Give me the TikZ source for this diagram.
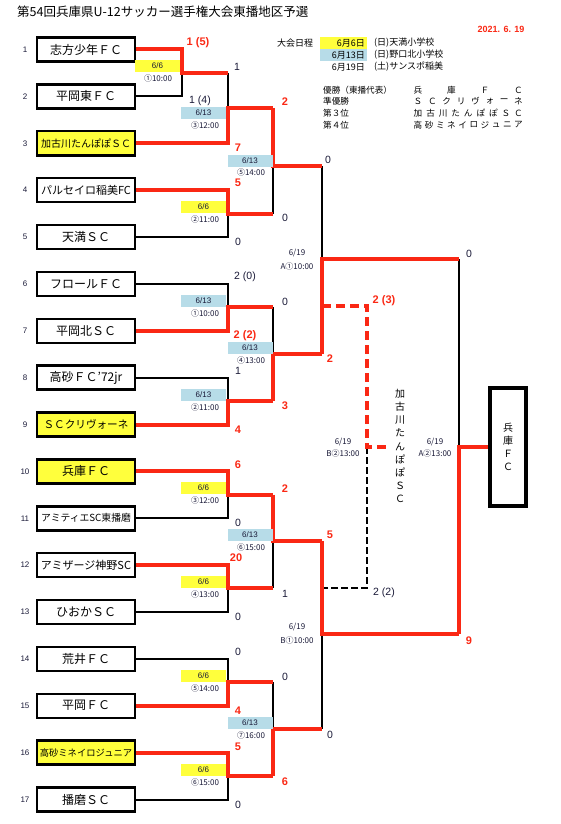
\documentclass[tikz,border=0pt]{standalone}
\usepackage{fontspec}
\setmainfont{Liberation Sans}
\newfontfamily\jp{Noto Sans CJK JP}
\definecolor{rd}{RGB}{250,40,20}
\definecolor{yl}{RGB}{255,255,60}
\definecolor{bl}{RGB}{183,220,232}
\definecolor{nv}{RGB}{25,25,55}
\begin{document}
\begin{tikzpicture}[x=1pt,y=-1pt,
  team/.style={draw, line width=2.5pt, minimum width=98pt, minimum height=24pt, inner sep=0pt, font=\jp\fontsize{12}{12}\selectfont},
  teamY/.style={team, fill=yl},
  num/.style={font=\fontsize{8}{8}\selectfont, text=nv, inner sep=0pt},
  bk/.style={line width=2pt, black},
  rl/.style={line width=4pt, rd},
  rdash/.style={line width=3.2pt, rd, dash pattern=on 9pt off 5pt},
  bdash/.style={line width=2pt, black, dash pattern=on 7pt off 3pt},
  lblY/.style={fill=yl, minimum width=45pt, minimum height=12pt, inner sep=0pt, font=\fontsize{8}{8}\selectfont, text=nv},
  lblB/.style={lblY, fill=bl},
  tm/.style={font=\jp\fontsize{8}{8}\selectfont, text=nv, inner sep=0pt},
  sc/.style={font=\fontsize{10.5}{10.5}\selectfont, text=nv, inner sep=0pt},
  scr/.style={font=\bfseries\fontsize{11}{11}\selectfont, text=rd, inner sep=0pt},
  hd/.style={font=\jp\fontsize{9}{9}\selectfont, inner sep=0pt},
]
\useasboundingbox (0,0) rectangle (561,824);

% title and header
\node[anchor=west, inner sep=0pt, font=\jp\fontsize{12.5}{12.5}\selectfont] (title) at (17,12) {第54回兵庫県U-12サッカー選手権大会東播地区予選};
\node[font=\bfseries\fontsize{9}{9}\selectfont, text=rd, inner sep=0pt] (date) at (501,29) {2021. 6. 19};
\node[hd] (sched) at (295,43) {大会日程};
\fill[yl] (320,37) rectangle (367,49);
\fill[bl] (320,49) rectangle (367,61);
\node[hd, anchor=east] (d1) at (365,43) {6月6日};
\node[hd, anchor=east] (d2) at (365,55) {6月13日};
\node[hd, anchor=east] (d3) at (365,67) {6月19日};
\node[hd, anchor=west] (v1) at (374,43) {(日)天満小学校};
\node[hd, anchor=west] (v2) at (374,55) {(日)野口北小学校};
\node[hd, anchor=west] (v3) at (374,67) {(土)サンスポ稲美};
\node[hd, anchor=west, font=\jp\fontsize{8.6}{8.6}\selectfont] (p1) at (323,90) {優勝（東播代表）};
\node[hd, anchor=west, font=\jp\fontsize{8.6}{8.6}\selectfont] (p2) at (323,101) {準優勝};
\node[hd, anchor=west, font=\jp\fontsize{8.6}{8.6}\selectfont] (p3) at (323,113) {第３位};
\node[hd, anchor=west, font=\jp\fontsize{8.6}{8.6}\selectfont] (p4) at (323,125) {第４位};
\foreach \c [count=\i from 0] in {兵,庫,Ｆ,Ｃ}
  \node[hd, font=\jp\fontsize{8.6}{8.6}\selectfont] (ra\i) at ({418+\i*33.5},90) {\c};
\foreach \c [count=\i from 0] in {Ｓ,Ｃ,ク,リ,ヴ,ォ,ー,ネ}
  \node[hd, font=\jp\fontsize{8.6}{8.6}\selectfont] (rb\i) at ({418+\i*14.36},101) {\c};
\foreach \c [count=\i from 0] in {加,古,川,た,ん,ぽ,ぽ,Ｓ,Ｃ}
  \node[hd, font=\jp\fontsize{8.6}{8.6}\selectfont] (rc\i) at ({418+\i*12.56},113) {\c};
\foreach \c [count=\i from 0] in {高,砂,ミ,ネ,イ,ロ,ジ,ュ,ニ,ア}
  \node[hd, font=\jp\fontsize{8.6}{8.6}\selectfont] (rd\i) at ({418+\i*11.17},125) {\c};

% teams
\node[team]  (t1)  at (86,49.5)    {志方少年ＦＣ};
\node[team]  (t2)  at (86,96.375)  {平岡東ＦＣ};
\node[teamY, font=\jp\fontsize{10}{10}\selectfont] (t3) at (86,143.25) {加古川たんぽぽＳＣ};
\node[team, font=\jp\fontsize{11}{11}\selectfont]  (t4)  at (86,190.125) {パルセイロ稲美FC};
\node[team]  (t5)  at (86,237)     {天満ＳＣ};
\node[team]  (t6)  at (86,283.875) {フロールＦＣ};
\node[team]  (t7)  at (86,330.75)  {平岡北ＳＣ};
\node[team]  (t8)  at (86,377.625) {高砂ＦＣ’72jr};
\node[teamY, font=\jp\fontsize{10.6}{10.6}\selectfont] (t9) at (86,424.5) {ＳＣクリヴォーネ};
\node[teamY] (t10) at (86,471.375) {兵庫ＦＣ};
\node[team, font=\jp\fontsize{9.8}{9.8}\selectfont]  (t11) at (86,518.25)  {アミティエSC東播磨};
\node[team, font=\jp\fontsize{11}{11}\selectfont]  (t12) at (86,565.125) {アミザージ神野SC};
\node[team]  (t13) at (86,612)     {ひおかＳＣ};
\node[team]  (t14) at (86,658.875) {荒井ＦＣ};
\node[team]  (t15) at (86,705.75)  {平岡ＦＣ};
\node[teamY, font=\jp\fontsize{9.3}{9.3}\selectfont] (t16) at (86,752.625) {高砂ミネイロジュニア};
\node[team]  (t17) at (86,799.5)   {播磨ＳＣ};
\foreach \i in {1,...,17}
  \node[num] (n\i) at (25,{49.5+(\i-1)*46.875}) {\i};

% champion box
\node[draw, line width=4pt, minimum width=36pt, minimum height=118pt, inner sep=0pt, align=center,
      font=\jp\fontsize{10}{13}\selectfont] (champ) at (508,447) {兵\\庫\\Ｆ\\Ｃ};
\node[inner sep=0pt, align=center, font=\jp\fontsize{10}{13.1}\selectfont] (third) at (400,446)
  {加\\古\\川\\た\\ん\\ぽ\\ぽ\\Ｓ\\Ｃ};

% junctions
\coordinate (m1) at (182,73);   \coordinate (j3u) at (228,73);
\coordinate (m3) at (228,108);  \coordinate (j5u) at (273,108);
\coordinate (m2a) at (228,213.5); \coordinate (j5l) at (273,213.5);
\coordinate (m5) at (273,166);  \coordinate (jAu) at (322,166);
\coordinate (m1b) at (228,307); \coordinate (j4u) at (273,307);
\coordinate (m2b) at (228,401); \coordinate (j4l) at (273,401);
\coordinate (m4) at (273,354);  \coordinate (jAl) at (322,354);
\coordinate (mA) at (322,259);  \coordinate (jFu) at (459,259);
\coordinate (m3a) at (228,494.5); \coordinate (j6u) at (273,494.5);
\coordinate (m4a) at (228,588); \coordinate (j6l) at (273,588);
\coordinate (m6) at (273,541);  \coordinate (jBu) at (322,541);
\coordinate (m5a) at (228,682); \coordinate (j7u) at (273,682);
\coordinate (m6a) at (228,776); \coordinate (j7l) at (273,776);
\coordinate (m7) at (273,729);  \coordinate (jBl) at (322,729);
\coordinate (mB) at (322,634);  \coordinate (jFl) at (459,634);
\coordinate (mF) at (459,447);
\coordinate (tA) at (322,306);  \coordinate (tAc) at (367,306);
\coordinate (mT) at (367,447);  \coordinate (tOut) at (387,447);
\coordinate (tBc) at (367,588); \coordinate (tB) at (322,588);

% black lines
\draw[bk] (t2.east) -| (m1);
\draw[bk] (j3u) -- (m3);
\draw[bk] (t5.east) -| (m2a);
\draw[bk] (j5l) -- (m5);
\draw[bk] (t6.east) -| (m1b);
\draw[bk] (t8.east) -| (m2b);
\draw[bk] (j4u) -- (m4);
\draw[bk] (jAu) -- (mA);
\draw[bk] (t11.east) -| (m3a);
\draw[bk] (t13.east) -| (m4a);
\draw[bk] (j6l) -- (m6);
\draw[bk] (t14.east) -| (m5a);
\draw[bk] (t17.east) -| (m6a);
\draw[bk] (j7u) -- (m7);
\draw[bk] (jBl) -- (mB);
\draw[bk] (jFu) -- (mF);
\draw[bdash] (mT) -- (tBc) -- (tB);

% red lines
\draw[rl] (t1.east) -| (m1) -- (j3u);
\draw[rl] (t3.east) -| (m3) -- (j5u);
\draw[rl] (t4.east) -| (m2a) -- (j5l);
\draw[rl] (j5u) -- (m5) -- (jAu);
\draw[rl] (t7.east) -| (m1b) -- (j4u);
\draw[rl] (t9.east) -| (m2b) -- (j4l);
\draw[rl] (j4l) -- (m4) -- (jAl);
\draw[rl] (jAl) -- (mA) -- (jFu);
\draw[rl] (t10.east) -| (m3a) -- (j6u);
\draw[rl] (t12.east) -| (m4a) -- (j6l);
\draw[rl] (j6u) -- (m6) -- (jBu);
\draw[rl] (t15.east) -| (m5a) -- (j7u);
\draw[rl] (t16.east) -| (m6a) -- (j7l);
\draw[rl] (j7l) -- (m7) -- (jBl);
\draw[rl] (jBu) -- (mB) -- (jFl);
\draw[rl] (jFl) -- (mF) -- (champ.west);
\draw[rdash] (tA) -- (tAc) -- (mT) -- (tOut);

% date labels
\node[lblY] (L1) at (157.5,66) {6/6};     \node[tm] (L1t) at (158,78) {①10:00};
\node[lblB] (L2) at (203.5,113) {6/13};   \node[tm] (L2t) at (205,125) {③12:00};
\node[lblB] (L3) at (250,160.5) {6/13};   \node[tm] (L3t) at (251,172) {⑤14:00};
\node[lblY] (L4) at (203.5,207) {6/6};    \node[tm] (L4t) at (205,219) {②11:00};
\node[lblB] (L5) at (203.5,301) {6/13};   \node[tm] (L5t) at (205,313) {①10:00};
\node[lblB] (L6) at (250,347.5) {6/13};   \node[tm] (L6t) at (251,360) {④13:00};
\node[lblB] (L7) at (203.5,395) {6/13};   \node[tm] (L7t) at (205,407) {②11:00};
\node[lblY] (L8) at (203.5,487.5) {6/6};  \node[tm] (L8t) at (205,500) {③12:00};
\node[lblB] (L9) at (250,535) {6/13};     \node[tm] (L9t) at (251,547) {⑥15:00};
\node[lblY] (L10) at (203.5,581.5) {6/6}; \node[tm] (L10t) at (205,594) {④13:00};
\node[lblY] (L11) at (203.5,676) {6/6};   \node[tm] (L11t) at (205,688) {⑤14:00};
\node[lblB] (L12) at (250,722.5) {6/13};  \node[tm] (L12t) at (251,735) {⑦16:00};
\node[lblY] (L13) at (203.5,770) {6/6};   \node[tm] (L13t) at (205,782) {⑥15:00};
\node[tm] (LA) at (297,253) {6/19};  \node[tm] (LAt) at (297,266) {A①10:00};
\node[tm] (LB) at (297,627) {6/19};  \node[tm] (LBt) at (297,640) {B①10:00};
\node[tm] (LT) at (343,442) {6/19};  \node[tm] (LTt) at (343,453) {B②13:00};
\node[tm] (LF) at (435,442) {6/19};  \node[tm] (LFt) at (435,453) {A②13:00};

% scores
\node[scr] (s1) at (198,43) {1 (5)};
\node[sc]  (s2) at (200,101) {1 (4)};
\node[sc]  (s3) at (237,67) {1};
\node[scr] (s4) at (238,148) {7};
\node[scr] (s5) at (238,183) {5};
\node[sc]  (s6) at (238,242) {0};
\node[scr] (s7) at (285,102) {2};
\node[sc]  (s8) at (285,218) {0};
\node[sc]  (s9) at (328,160) {0};
\node[sc]  (s10) at (245,277) {2 (0)};
\node[scr] (s11) at (245,336) {2 (2)};
\node[sc]  (s12) at (238,371) {1};
\node[scr] (s13) at (238,430) {4};
\node[sc]  (s14) at (285,302) {0};
\node[scr] (s15) at (285,406) {3};
\node[scr] (s16) at (330,359) {2};
\node[sc]  (s17) at (469,254) {0};
\node[scr] (s18) at (384,301) {2 (3)};
\node[sc]  (s19) at (384,593) {2 (2)};
\node[scr] (s20) at (238,465) {6};
\node[sc]  (s21) at (238,523) {0};
\node[scr] (s22) at (285,489) {2};
\node[scr] (s23) at (236,558) {20};
\node[sc]  (s24) at (238,617) {0};
\node[sc]  (s25) at (285,594) {1};
\node[scr] (s26) at (330,535) {5};
\node[sc]  (s27) at (238,652) {0};
\node[scr] (s28) at (238,711) {4};
\node[sc]  (s29) at (285,677) {0};
\node[scr] (s30) at (238,747) {5};
\node[sc]  (s31) at (238,805) {0};
\node[scr] (s32) at (285,782) {6};
\node[sc]  (s33) at (330,735) {0};
\node[scr] (s34) at (469,641) {9};
\end{tikzpicture}
\end{document}
